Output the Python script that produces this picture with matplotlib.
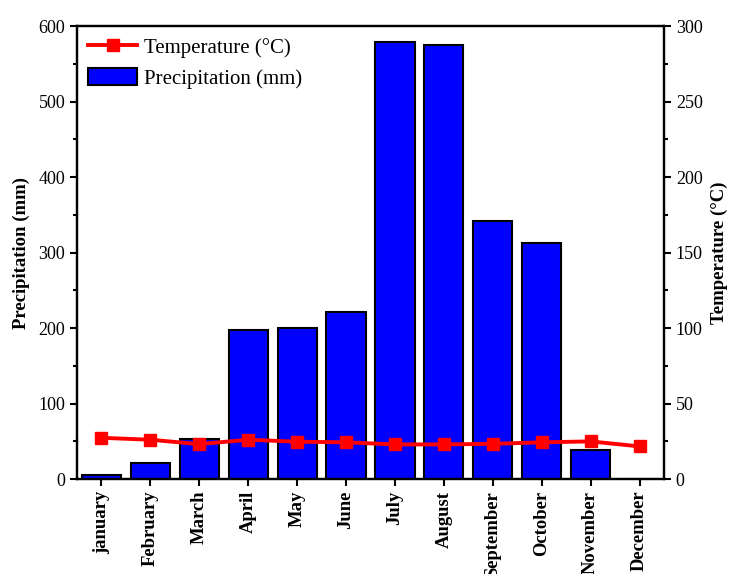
import matplotlib
matplotlib.use("Agg")
import matplotlib.pyplot as plt
from matplotlib.ticker import MultipleLocator

months = ["january", "February", "March", "April", "May", "June", "July",
          "August", "September", "October", "November", "December"]
precip = [5, 21, 53, 197, 200, 221, 579, 575, 342, 313, 39, 0]
temp = [27.3, 26.0, 23.1, 26.0, 24.7, 24.3, 22.9, 22.9, 23.3, 24.3, 24.9, 21.6]

plt.rcParams['font.family'] = ['Liberation Serif', 'DejaVu Serif']

fig = plt.figure(figsize=(7.29, 5.74), dpi=100)
ax = fig.add_axes([0.1056, 0.1655, 0.8052, 0.7892])
x = list(range(len(months)))
bars = ax.bar(x, precip, width=0.8, color='#0000ff', edgecolor='black',
              linewidth=1.5, label='Precipitation (mm)', zorder=2)
ax.set_xlim(-0.5, 11.5)
ax.set_ylim(0, 600)
ax.yaxis.set_major_locator(MultipleLocator(100))
ax.yaxis.set_minor_locator(MultipleLocator(50))
ax.set_xticks(x)
ax.set_xticklabels(months, rotation=90, fontweight='bold', fontsize=13.4)
ax.set_ylabel('Precipitation (mm)', fontweight='bold', fontsize=13.5, labelpad=6)
ax.tick_params(axis='y', which='major', direction='out', length=5, width=1.5, labelsize=13)
ax.tick_params(axis='y', which='minor', direction='out', length=3, width=1.5)
ax.tick_params(axis='x', direction='out', length=5, width=1.5)
for s in ax.spines.values():
    s.set_linewidth(1.6)

ax2 = ax.twinx()
line, = ax2.plot(x, temp, color='#ff0000', linewidth=2.8, marker='s',
                 markersize=8.5, label='Temperature (°C)', zorder=3)
ax2.set_ylim(0, 300)
ax2.yaxis.set_major_locator(MultipleLocator(50))
ax2.yaxis.set_minor_locator(MultipleLocator(25))
ax2.set_ylabel('Temperature (°C)', fontweight='bold', fontsize=13.5, labelpad=6)
ax2.tick_params(axis='y', which='major', direction='out', length=5, width=1.5, labelsize=13)
ax2.tick_params(axis='y', which='minor', direction='out', length=3, width=1.5)
for s in ax2.spines.values():
    s.set_linewidth(1.6)

ax2.legend([line, bars], ['Temperature (°C)', 'Precipitation (mm)'],
           loc='upper left', frameon=False, fontsize=15,
           handlelength=2.35, handleheight=0.9, handletextpad=0.34,
           borderaxespad=0.2, labelspacing=0.45, borderpad=0.35)

fig.savefig('out.png', dpi=100)
